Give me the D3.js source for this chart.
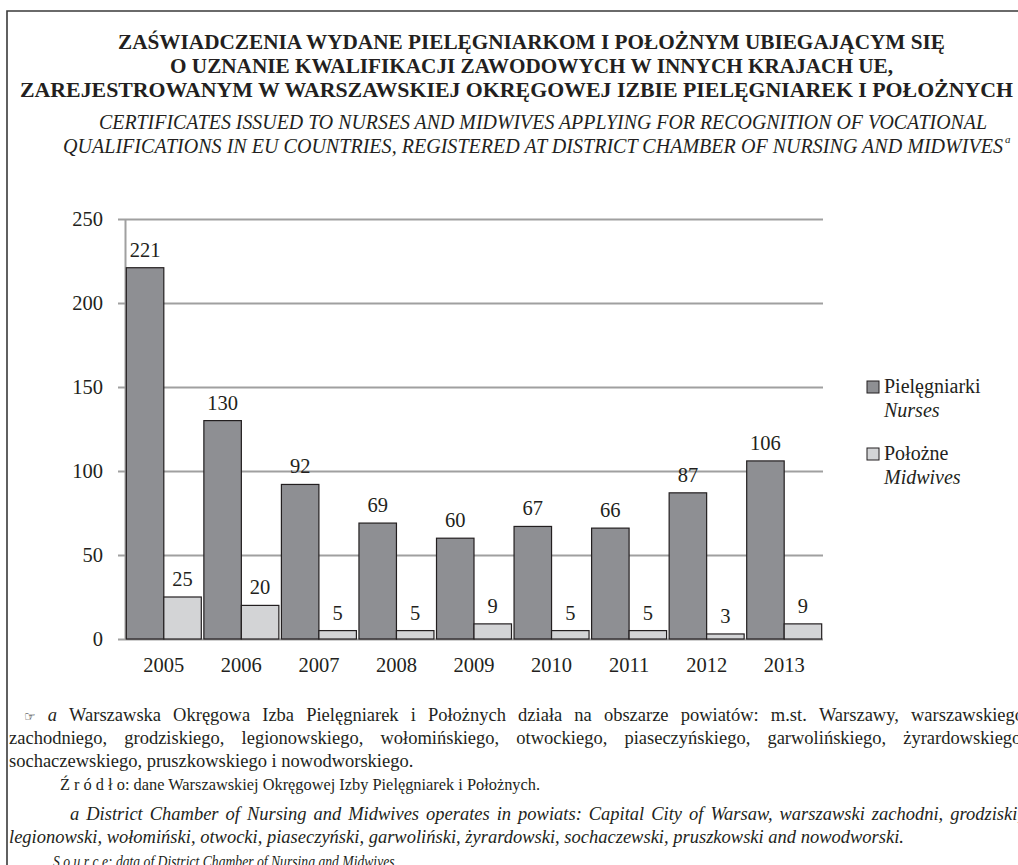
<!DOCTYPE html>
<html><head><meta charset="utf-8">
<script src="https://cdn.jsdelivr.net/npm/d3@7"></script>
<style>body{margin:0;background:#fff;overflow:hidden} svg{display:block}</style>
</head><body>
<svg id="c" width="1018" height="865"></svg>
<script>
// ---------- data ----------
const years = ["2005","2006","2007","2008","2009","2010","2011","2012","2013"];
const nurses = [221,130,92,69,60,67,66,87,106];
const midwives = [25,20,5,5,9,5,5,3,9];
const seriesPl = ["Pielęgniarki","Położne"];
const seriesEn = ["Nurses","Midwives"];
const yTicks = [0,50,100,150,200,250];
const titlePl = [
  "ZAŚWIADCZENIA WYDANE PIELĘGNIARKOM I POŁOŻNYM UBIEGAJĄCYM SIĘ",
  "O UZNANIE KWALIFIKACJI ZAWODOWYCH W INNYCH KRAJACH UE,",
  "ZAREJESTROWANYM W WARSZAWSKIEJ OKRĘGOWEJ IZBIE PIELĘGNIAREK I POŁOŻNYCH"
];
const titleEn = [
  "CERTIFICATES ISSUED TO NURSES AND MIDWIVES APPLYING FOR RECOGNITION OF VOCATIONAL",
  "QUALIFICATIONS IN EU COUNTRIES, REGISTERED AT DISTRICT CHAMBER OF NURSING AND MIDWIVES"
];
const notes = [
  "Warszawska Okręgowa Izba Pielęgniarek i Położnych działa na obszarze powiatów: m.st. Warszawy, warszawskiego",
  "zachodniego, grodziskiego, legionowskiego, wołomińskiego, otwockiego, piaseczyńskiego, garwolińskiego, żyrardowskiego,",
  "sochaczewskiego, pruszkowskiego i nowodworskiego.",
  "Ź r ó d ł o: dane Warszawskiej Okręgowej Izby Pielęgniarek i Położnych.",
  "District Chamber of Nursing and Midwives operates in powiats: Capital City of Warsaw, warszawski zachodni, grodziski,",
  "legionowski, wołomiński, otwocki, piaseczyński, garwoliński, żyrardowski, sochaczewski, pruszkowski and nowodworski.",
  "S o u r c e: data of District Chamber of Nursing and Midwives."
];

// ---------- drawing ----------
const svg = d3.select("#c");
const INK = "#231f20";
const SERIF = "'Liberation Serif','Times New Roman','DejaVu Serif',serif";

// frame
svg.append("path").attr("d","M7,866 L7,11 L1019,11")
  .attr("fill","none").attr("stroke","#3a3a3a").attr("stroke-width",1.6);

// titles
const tPl = [{x:118,y:49,w:827},{x:170,y:73,w:723},{x:20,y:97,w:993}];
titlePl.forEach((t,i)=>{
  svg.append("text").attr("x",tPl[i].x).attr("y",tPl[i].y)
    .attr("textLength",tPl[i].w).attr("lengthAdjust","spacingAndGlyphs")
    .attr("font-family",SERIF).attr("font-weight","bold").attr("font-size",20.5)
    .attr("fill",INK).text(t);
});
const tEn = [{x:99,y:129,w:888},{x:63,y:153,w:940}];
titleEn.forEach((t,i)=>{
  svg.append("text").attr("x",tEn[i].x).attr("y",tEn[i].y)
    .attr("textLength",tEn[i].w).attr("lengthAdjust","spacingAndGlyphs")
    .attr("font-family",SERIF).attr("font-style","italic").attr("font-size",20)
    .attr("fill",INK).text(t);
});
svg.append("text").attr("x",1005).attr("y",143).attr("font-family",SERIF)
  .attr("font-style","italic").attr("font-size",11).attr("fill",INK).text("a");

// scales
const left = 125, right = 823, y0 = 639, yTop = 219;
const y = d3.scaleLinear().domain([0,250]).range([y0,yTop]);
const x0 = d3.scaleBand().domain(years).range([left,right]).paddingInner(0.033).paddingOuter(0.017);
const x1 = d3.scaleBand().domain(["n","m"]).range([0,x0.bandwidth()]);

// y axis with gridlines
const gy = svg.append("g").attr("transform",`translate(${left},0)`)
  .call(d3.axisLeft(y).tickValues(yTicks).tickSizeInner(-(right-left)).tickSizeOuter(0).tickPadding(22));
gy.select(".domain").attr("stroke","#a0a0a0").attr("stroke-width",2);
gy.selectAll(".tick line").attr("x1",-7).attr("x2",right-left).attr("stroke","#a0a0a0").attr("stroke-width",2);
gy.selectAll(".tick text").attr("font-family",SERIF).attr("font-size",20.5).attr("fill",INK);

// bars
const rows = years.map((yr,i)=>({yr, vals:[{k:"n",v:nurses[i]},{k:"m",v:midwives[i]}]}));
const fills = {n:"#8e8f93", m:"#d3d4d6"};
const grp = svg.append("g").selectAll("g").data(rows).join("g")
  .attr("transform",d=>`translate(${x0(d.yr)},0)`);
grp.selectAll("rect").data(d=>d.vals).join("rect")
  .attr("x",d=>x1(d.k)).attr("width",x1.bandwidth())
  .attr("y",d=>y(d.v)).attr("height",d=>y0-y(d.v))
  .attr("fill",d=>fills[d.k]).attr("stroke",INK).attr("stroke-width",1.2);
grp.selectAll("text").data(d=>d.vals).join("text")
  .attr("x",d=>x1(d.k)+x1.bandwidth()/2).attr("y",d=>y(d.v)-11)
  .attr("text-anchor","middle").attr("font-family",SERIF).attr("font-size",20.5)
  .attr("fill",INK).text(d=>d.v);

// x axis
const gx = svg.append("g").attr("transform",`translate(0,${y0})`)
  .call(d3.axisBottom(x0).tickSize(0).tickPadding(18.5));
gx.select(".domain").remove();
gx.selectAll(".tick text").attr("font-family",SERIF).attr("font-size",20.5).attr("fill",INK);

// legend
const leg = [{y:393,fill:fills.n},{y:460,fill:fills.m}];
seriesPl.forEach((s,i)=>{
  svg.append("rect").attr("x",867).attr("y",leg[i].y-12).attr("width",12).attr("height",12)
    .attr("fill",leg[i].fill).attr("stroke",INK).attr("stroke-width",1);
  svg.append("text").attr("x",884).attr("y",leg[i].y).attr("font-family",SERIF)
    .attr("font-size",20).attr("fill",INK).text(s);
  svg.append("text").attr("x",884).attr("y",leg[i].y+24).attr("font-family",SERIF)
    .attr("font-style","italic").attr("font-size",20).attr("fill",INK).text(seriesEn[i]);
});

// footnotes
const FN = 18.5;
function justified(words, styles, x, yb, xEnd){
  const els = words.map((w,i)=>{
    const st = styles[i] || {};
    return svg.append("text").attr("y",yb)
      .attr("font-family",st.font||SERIF).attr("font-size",st.size||FN)
      .attr("font-style",st.italic?"italic":"normal").attr("fill",INK).text(w);
  });
  const widths = els.map(e=>e.node().getComputedTextLength());
  const total = d3.sum(widths);
  const gap = Math.max(4,(xEnd - x - total)/(words.length-1));
  let cx = x;
  els.forEach((e,i)=>{ e.attr("x",cx); cx += widths[i]+gap; });
}
function plain(t, x, yb, italic, size, w){
  const el = svg.append("text").attr("x",x).attr("y",yb)
    .attr("font-family",SERIF).attr("font-size",size||FN).attr("font-style",italic?"italic":"normal")
    .attr("fill",INK).text(t);
  if (w) el.attr("textLength",w).attr("lengthAdjust","spacingAndGlyphs");
}
{
  const w = ["\u261E","a"].concat(notes[0].split(" "));
  const st = [{font:"'DejaVu Sans',sans-serif",size:13},{italic:true}];
  justified(w, st, 24, 721, 1024);
}
justified(notes[1].split(" "), [], 9, 744, 1026);
plain(notes[2], 9, 767, false);
plain(notes[3], 60, 790, false, 17, 480);
{
  const w = ["a"].concat(notes[4].split(" "));
  const st = w.map(()=>({italic:true}));
  justified(w, st, 70, 820, 1022);
}
plain(notes[5], 9, 843, true);
plain(notes[6], 53, 867, true, 17, 345);
</script>
</body></html>
